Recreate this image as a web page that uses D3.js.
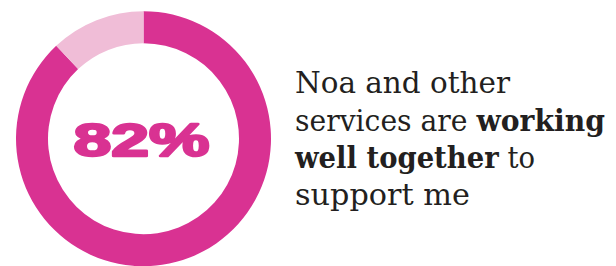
<!DOCTYPE html>
<html>
<head>
<meta charset="utf-8">
<script src="https://cdn.jsdelivr.net/npm/d3@7"></script>
<style>
  html, body { margin: 0; padding: 0; background: #ffffff; }
  svg { display: block; }
</style>
</head>
<body>
<svg id="chart" width="616" height="266"></svg>
<script>
// ---- data ----
const segments = ["Working well together", "Other"];
const shares = [88, 12];            // arc shares as drawn
const centreLabel = "82%";
const colours = ["#d93292", "#f0bdd7"];
const lines = [
  [{t: "Noa and other", b: false}],
  [{t: "services are ", b: false}, {t: "working", b: true}],
  [{t: "well together", b: true}, {t: " to", b: false}],
  [{t: "support me", b: false}]
];
const lineWidths = [215, 310, 240, 175];

// ---- drawing ----
const svg = d3.select("#chart");
const cx = 143.5, cy = 138.7, R = 127.5, r = 95.5;

const pie = d3.pie().sort(null).value(d => d.v)
  .startAngle(0).endAngle(2 * Math.PI);
const data = segments.map((s, i) => ({ name: s, v: shares[i] }));
const arc = d3.arc().innerRadius(r).outerRadius(R);

const g = svg.append("g").attr("transform", `translate(${cx},${cy})`);
g.selectAll("path").data(pie(data)).join("path")
  .attr("d", arc)
  .attr("fill", (d, i) => colours[i]);

const lbl = g.append("text")
  .attr("x", 0).attr("y", 0)
  .attr("font-family", "Liberation Sans, Arial, sans-serif")
  .attr("font-weight", 700)
  .attr("font-size", 47)
  .attr("fill", colours[0])
  .attr("stroke", colours[0])
  .attr("stroke-width", 2.4)
  .attr("stroke-linejoin", "round")
  .text(centreLabel);
const lw = lbl.node().getComputedTextLength();
const sx = 136 / lw;
// left edge of text at x = 73.5 (page), baseline at 156.5
lbl.attr("transform", `translate(${73.5 - cx},${156.5 - cy - 1}) scale(${sx},1)`);

const baselines = [93.3, 131, 167.8, 205];
const tx = 295;
lines.forEach((ln, i) => {
  const t = svg.append("text")
    .attr("x", 0)
    .attr("y", 0)
    .attr("font-family", "DejaVu Serif, serif")
    .attr("font-size", 29.5)
    .attr("fill", "#231f20");
  ln.forEach(p => {
    t.append("tspan")
      .attr("font-weight", p.b ? 700 : 300)
      .text(p.t);
  });
  const w = t.node().getComputedTextLength();
  t.attr("transform", `translate(${tx},${baselines[i]}) scale(${lineWidths[i] / w},1)`);
});
</script>
</body>
</html>
